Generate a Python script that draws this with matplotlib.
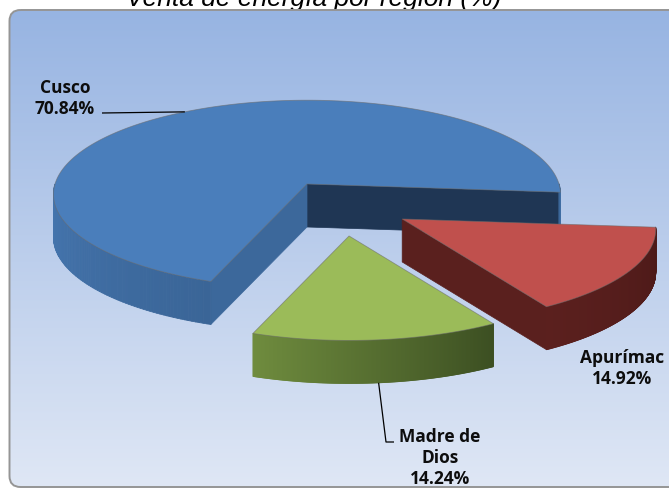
import matplotlib

matplotlib.use("Agg")
import matplotlib.pyplot as plt
import numpy as np
from matplotlib.collections import PolyCollection
from matplotlib.colors import LinearSegmentedColormap, to_rgb
from matplotlib.patches import FancyBboxPatch, Polygon


TITLE = "Venta de energía por región (%)"
REGIONS = ["Cusco", "Apurímac", "Madre de Dios"]
SHARES = [70.84, 14.92, 14.24]
LABEL_NAMES = ["Cusco", "Apurímac", "Madre de\nDios"]

# picture geometry, in pixels of the 669x488 canvas
W, H = 669, 488
CX, CY = 307, 184
RX, RY = 252, 93
PERSP = 0.11
DEPTH = 43
FIRST_ANGLE = 250  # first slice starts here and runs clockwise

# (distance as fraction of radius, bearing tweak from the bisector, deg)
EXPLODE = {"Cusco": (0.0, 0.0), "Apurímac": (0.533, -13.0), "Madre de Dios": (0.583, 11.0)}

STYLE = {
    "Cusco": dict(top="#4A7EBB", side=("#4677B1", "#3A6597"), cut_lo="#1F3654", cut_hi="#3C689B"),
    "Apurímac": dict(top="#C0504D", side=("#5B201E", "#4C1918"), cut_lo="#5A201E", cut_hi="#5A201E"),
    "Madre de Dios": dict(top="#9BBB59", side=("#6F8C3E", "#3C4F22"), cut_lo="#5A7432", cut_hi="#4A6029"),
}

LABEL_POS = {"Cusco": (65, 93), "Apurímac": (622, 363), "Madre de Dios": (440, 442)}
LINE_PITCH = 21
# anchor angle on the slice, which rim ("top"/"bottom"), then the bends
LEADERS = {
    "Cusco": (122, "top", [(102, 113)]),
    "Madre de Dios": (276, "bottom", [(386, 442), (394, 442)]),
}

PANEL_TOP = "#97B4E2"
PANEL_BOTTOM = "#DFE7F5"


def project(angles, off=(0.0, 0.0), drop=0.0):
    t = np.radians(np.atleast_1d(angles))
    u, v = np.cos(t), np.sin(t)
    s = 1.0 / (1.0 + PERSP * v)
    return np.column_stack([CX + off[0] + RX * u * s, CY + off[1] - RY * v * s + drop])


def draw_slice(ax, lo, hi, off, style):
    centre = np.array([CX + off[0], CY + off[1]])
    down = np.array([0.0, DEPTH])

    faces = [(lo, "cut_lo", np.cos(np.radians(lo)) > 0), (hi, "cut_hi", np.cos(np.radians(hi)) < 0)]
    for ang, key, visible in faces:
        if visible:
            p = project(ang, off)[0]
            ax.add_patch(Polygon([centre, p, p + down, centre + down], closed=True,
                                 fc=style[key], ec=style[key], lw=0.5, zorder=3))

    t = np.linspace(lo, hi, 300)
    rim = project(t, off)
    mid = (t[:-1] + t[1:]) / 2
    idx = np.flatnonzero(np.sin(np.radians(mid)) < 0)
    if len(idx):
        c0, c1 = np.array(to_rgb(style["side"][0])), np.array(to_rgb(style["side"][1]))
        for run in np.split(idx, np.flatnonzero(np.diff(idx) > 1) + 1):
            frac = (np.arange(len(run)) + 0.5) / len(run)
            cols = c0 + (c1 - c0) * frac[:, None]
            quads = [[rim[i], rim[i + 1], rim[i + 1] + down, rim[i] + down] for i in run]
            ax.add_collection(PolyCollection(quads, facecolors=cols, edgecolors=cols,
                                             linewidths=0.6, zorder=3))

    ax.add_patch(Polygon(np.vstack([centre, rim]), closed=True, fc=style["top"],
                         ec=(0.42, 0.42, 0.42, 0.6), lw=0.6, zorder=3))


fig = plt.figure(figsize=(W / 100, H / 100), dpi=100)
fig.patch.set_facecolor("white")
ax = fig.add_axes([0, 0, 1, 1])

ax.text(314, 6, TITLE, ha="center", va="baseline", fontsize=19, style="italic",
        family=["Liberation Sans", "DejaVu Sans"], color="black", zorder=0.5)

panel = FancyBboxPatch((9.5, 10), 720, 477, boxstyle="round,pad=0,rounding_size=11",
                       fc="none", ec="#959595", lw=1.4, zorder=2)
ax.add_patch(panel)
grad = np.linspace(0, 1, 256)[:, None]
cmap = LinearSegmentedColormap.from_list("panel", [PANEL_TOP, PANEL_BOTTOM])
img = ax.imshow(grad, cmap=cmap, extent=(9.5, 729.5, 487, 10), aspect="auto",
                interpolation="bicubic", zorder=1)
img.set_clip_path(panel)

shares = np.array(SHARES)
edges = FIRST_ANGLE - np.concatenate([[0], np.cumsum(shares)]) * 3.6
for i, name in enumerate(REGIONS):
    hi, lo = edges[i], edges[i + 1]
    dist, tweak = EXPLODE[name]
    bearing = np.radians((lo + hi) / 2 + tweak)
    off = (RX * dist * np.cos(bearing), -RY * dist * np.sin(bearing))
    draw_slice(ax, lo, hi, off, STYLE[name])

    if name in LEADERS:
        ang, rim_side, bends = LEADERS[name]
        anchor = project(ang, off, DEPTH if rim_side == "bottom" else 0.0)[0]
        pts = np.vstack([anchor, bends]) if rim_side == "bottom" else np.vstack([bends[::-1], anchor])
        ax.plot(pts[:, 0], pts[:, 1], color="black", lw=0.9, zorder=6, solid_capstyle="butt")

    lines = LABEL_NAMES[i].split("\n") + [f"{SHARES[i]:.2f}%"]
    lx, ly = LABEL_POS[name]
    for k, line in enumerate(lines):
        ax.text(lx, ly + k * LINE_PITCH, line, ha="center", va="baseline", fontsize=12.5,
                fontweight="bold", family=["Open Sans", "DejaVu Sans"], color="#0D0D0D", zorder=7)

ax.set_xlim(0, W)
ax.set_ylim(H, 0)
ax.axis("off")

fig.savefig("out.png", dpi=100)
